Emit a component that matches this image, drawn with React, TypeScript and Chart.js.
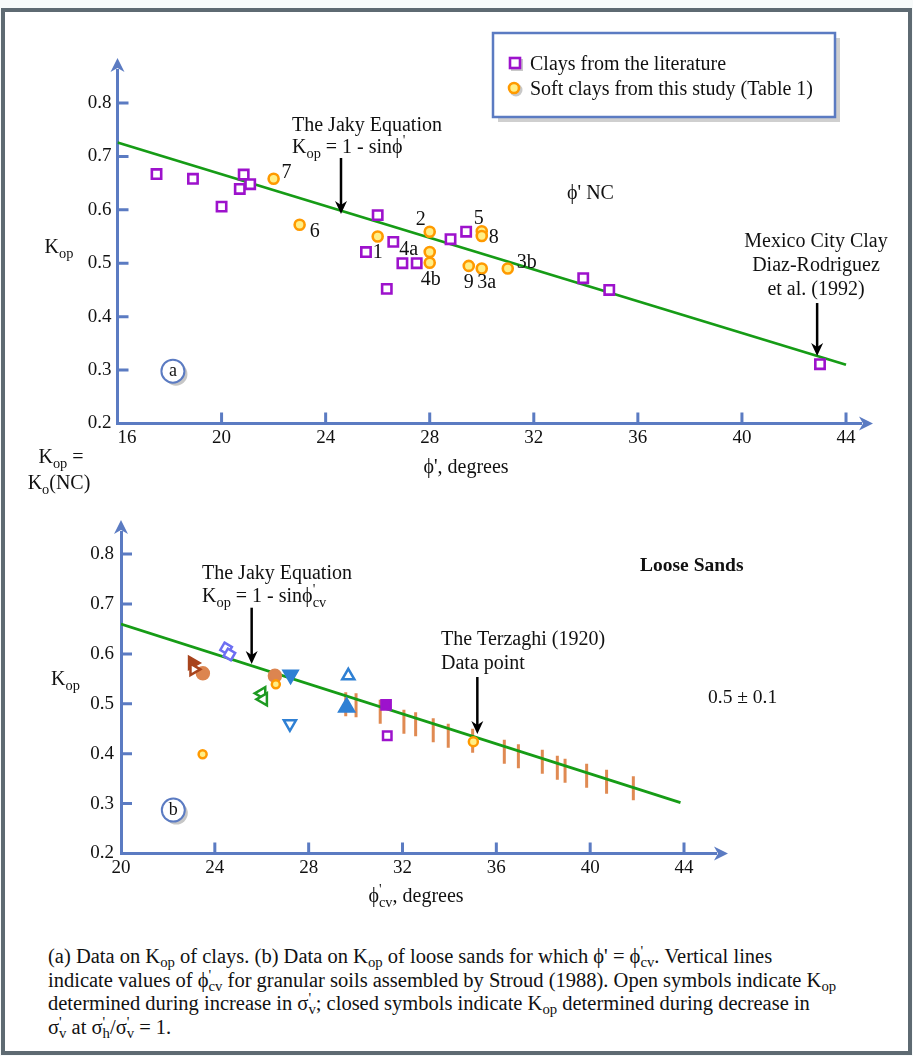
import React, { useEffect, useRef } from "react";
import { Chart, registerables } from "chart.js";
Chart.register(...registerables);

const SERIF = '"Liberation Serif", "Times New Roman", Times, serif';
const AXIS = "#5b7bc2";
const GREEN = "#169c16";
const PURPLE = "#9d12cc";
const ORANGE = "#ff9a00";
const YELLOW = "#ffef86";
const STROUD = "#e08a52";
const BROWN_DOT = "#dc8550";
const BROWN = "#a8441d";
const BLUE = "#2f80d4";
const VIOLET = "#6d6ff2";
const DKGREEN = "#1e9a22";
const INK = "#111";
const PHI = "\u03D5";
const FS = 20;

// ---------- (a) clays ----------
const phiTicksA = [16, 20, 24, 28, 32, 36, 40, 44];
const kTicksA = [0.2, 0.3, 0.4, 0.5, 0.6, 0.7, 0.8];
const clayLitPhi = [17.5, 18.9, 20.0, 20.85, 20.7, 21.1, 26.0, 25.55, 26.6, 26.95, 27.5, 26.35, 28.8, 29.4, 33.9, 34.9, 43.0];
const clayLitK = [0.667, 0.658, 0.606, 0.666, 0.639, 0.648, 0.59, 0.521, 0.54, 0.5, 0.5, 0.452, 0.545, 0.559, 0.472, 0.45, 0.311];
const softClayPhi = [22.0, 23.0, 26.0, 28.0, 28.0, 28.0, 29.5, 30.0, 31.0, 30.0, 30.0];
const softClayK = [0.658, 0.572, 0.55, 0.559, 0.521, 0.501, 0.495, 0.49, 0.49, 0.56, 0.551];
const softClayLabels = ["7", "6", "1", "2", "4a", "4b", "9", "3a", "3b", "5", "8"];
const jakyAPhi = [16, 44];
const jakyAK = [0.726, 0.31];

// ---------- (b) loose sands ----------
const phiTicksB = [20, 24, 28, 32, 36, 40, 44];
const kTicksB = [0.2, 0.3, 0.4, 0.5, 0.6, 0.7, 0.8];
const jakyBPhi = [20, 43.85];
const jakyBK = [0.66, 0.302];
const stroudPhi = [29.58, 30.02, 31.05, 32.06, 32.56, 33.31, 33.95, 34.99, 36.34, 36.94, 37.96, 38.6, 38.93, 39.85, 40.7, 41.84];
const stroudK = [0.499, 0.497, 0.484, 0.464, 0.459, 0.447, 0.436, 0.426, 0.404, 0.395, 0.384, 0.372, 0.366, 0.356, 0.344, 0.331];
const openCirclePhi = [26.6, 23.48];
const openCircleK = [0.539, 0.399];
const terzaghiPhi = [35.02];
const terzaghiK = [0.424];
const filledCirclePhi = [23.49, 26.56];
const filledCircleK = [0.561, 0.556];
const brownFilledPhi = [23.05];
const brownFilledK = [0.582];
const brownOpenPhi = [23.1];
const brownOpenK = [0.569];
const violetPhi = [24.48, 24.62];
const violetK = [0.611, 0.599];
const greenTriPhi = [26.0, 26.07];
const greenTriK = [0.521, 0.509];
const blueDownFilledPhi = [27.23];
const blueDownFilledK = [0.558];
const blueDownOpenPhi = [27.2];
const blueDownOpenK = [0.46];
const blueUpOpenPhi = [29.69];
const blueUpOpenK = [0.556];
const blueUpFilledPhi = [29.62];
const blueUpFilledK = [0.493];
const purpleFilledPhi = [31.3];
const purpleFilledK = [0.498];
const purpleOpenPhi = [31.35];
const purpleOpenK = [0.436];

const pts = (xs: number[], ys: number[]) => xs.map((x, i) => ({ x, y: ys[i] }));
const font = (size: number, bold = false) => `${bold ? "bold " : ""}${size}px ${SERIF}`;

type Seg = { t: string; sub?: string; sup?: string; bold?: boolean };

function segWidth(ctx: CanvasRenderingContext2D, s: Seg, size: number) {
  ctx.font = font(size, s.bold);
  const w = ctx.measureText(s.t).width;
  ctx.font = font(size * 0.72);
  let e = 0;
  if (s.sub) e = Math.max(e, ctx.measureText(s.sub).width);
  if (s.sup) e = Math.max(e, ctx.measureText(s.sup).width);
  return w + e;
}

function drawRich(ctx: CanvasRenderingContext2D, segs: Seg[], x: number, y: number, size: number, align: "left" | "center" | "right" = "left") {
  const total = segs.reduce((a, s) => a + segWidth(ctx, s, size), 0);
  let cx = align === "left" ? x : align === "center" ? x - total / 2 : x - total;
  ctx.save();
  ctx.fillStyle = INK;
  ctx.textAlign = "left";
  ctx.textBaseline = "alphabetic";
  for (const s of segs) {
    ctx.font = font(size, s.bold);
    ctx.fillText(s.t, cx, y);
    const w = ctx.measureText(s.t).width;
    ctx.font = font(size * 0.72);
    let e = 0;
    if (s.sup) {
      ctx.fillText(s.sup, cx + w, y - size * 0.4);
      e = Math.max(e, ctx.measureText(s.sup).width);
    }
    if (s.sub) {
      ctx.fillText(s.sub, cx + w, y + size * 0.24);
      e = Math.max(e, ctx.measureText(s.sub).width);
    }
    cx += w + e;
  }
  ctx.restore();
}

function arrowDown(ctx: CanvasRenderingContext2D, x: number, y1: number, y2: number) {
  ctx.save();
  ctx.strokeStyle = "#000";
  ctx.fillStyle = "#000";
  ctx.lineWidth = 2.5;
  ctx.beginPath();
  ctx.moveTo(x, y1);
  ctx.lineTo(x, y2 - 8);
  ctx.stroke();
  ctx.beginPath();
  ctx.moveTo(x, y2);
  ctx.lineTo(x - 6, y2 - 13);
  ctx.lineTo(x, y2 - 9);
  ctx.lineTo(x + 6, y2 - 13);
  ctx.closePath();
  ctx.fill();
  ctx.restore();
}

function badge(ctx: CanvasRenderingContext2D, x: number, y: number, letter: string) {
  ctx.save();
  ctx.fillStyle = "#c6c6c6";
  ctx.beginPath();
  ctx.arc(x + 3, y + 3, 11.5, 0, Math.PI * 2);
  ctx.fill();
  ctx.fillStyle = "#fff";
  ctx.beginPath();
  ctx.arc(x, y, 11.5, 0, Math.PI * 2);
  ctx.fill();
  ctx.strokeStyle = AXIS;
  ctx.lineWidth = 2;
  ctx.stroke();
  ctx.fillStyle = INK;
  ctx.font = font(18);
  ctx.textAlign = "center";
  ctx.textBaseline = "middle";
  ctx.fillText(letter, x, y + 0.5);
  ctx.restore();
}

function axisDecor(chart: any, xt: number[], yt: number[]) {
  const ctx: CanvasRenderingContext2D = chart.ctx;
  const ca = chart.chartArea;
  const xs = chart.scales.x;
  const ys = chart.scales.y;
  ctx.save();
  ctx.strokeStyle = AXIS;
  ctx.fillStyle = AXIS;
  ctx.lineWidth = 3;
  ctx.beginPath();
  for (const v of xt) {
    const p = xs.getPixelForValue(v);
    ctx.moveTo(p, ca.bottom);
    ctx.lineTo(p, ca.bottom - 11);
  }
  for (const v of yt) {
    const p = ys.getPixelForValue(v);
    ctx.moveTo(ca.left, p);
    ctx.lineTo(ca.left + 11, p);
  }
  ctx.stroke();
  const ax = ca.left;
  const top = ca.top;
  ctx.beginPath();
  ctx.moveTo(ax, top - 12);
  ctx.lineTo(ax + 7, top + 2);
  ctx.lineTo(ax, top - 2);
  ctx.lineTo(ax - 7, top + 2);
  ctx.closePath();
  ctx.fill();
  const ay = ca.bottom;
  const r = ca.right;
  ctx.beginPath();
  ctx.moveTo(r + 12, ay);
  ctx.lineTo(r - 2, ay - 7);
  ctx.lineTo(r + 2, ay);
  ctx.lineTo(r - 2, ay + 7);
  ctx.closePath();
  ctx.fill();
  ctx.restore();
}

const softLabelOffsets: Record<string, [number, number]> = {
  "7": [13, -6], "6": [15, 7], "1": [0, 16], "2": [-9, -12], "4a": [-21, -2], "4b": [1, 17],
  "9": [0, 17], "3a": [5, 14], "3b": [19, -6], "5": [-3, -12], "8": [12, 2],
};

const pluginA = {
  id: "annA",
  afterDraw(chart: any) {
    const ctx: CanvasRenderingContext2D = chart.ctx;
    const xs = chart.scales.x;
    const ys = chart.scales.y;
    const ca = chart.chartArea;
    const X = (v: number) => xs.getPixelForValue(v);
    const Y = (v: number) => ys.getPixelForValue(v);
    axisDecor(chart, phiTicksA.slice(1), kTicksA.slice(1));

    ctx.save();
    ctx.fillStyle = INK;
    ctx.font = font(FS);
    ctx.textAlign = "center";
    ctx.textBaseline = "middle";
    softClayLabels.forEach((lab, i) => {
      const [dx, dy] = softLabelOffsets[lab];
      ctx.fillText(lab, X(softClayPhi[i]) + dx, Y(softClayK[i]) + dy);
    });
    ctx.restore();

    drawRich(ctx, [{ t: "The Jaky Equation" }], 292, 131, FS);
    drawRich(ctx, [{ t: "K", sub: "op" }, { t: " = 1 - sin" + PHI, sup: "'" }], 292, 153, FS);
    arrowDown(ctx, X(24.59), Y(0.697), Y(0.592));

    drawRich(ctx, [{ t: PHI + "' NC" }], 567, 199, FS);

    drawRich(ctx, [{ t: "Mexico City Clay" }], 816, 247, FS, "center");
    drawRich(ctx, [{ t: "Diaz-Rodriguez" }], 816, 271, FS, "center");
    drawRich(ctx, [{ t: "et al. (1992)" }], 816, 295, FS, "center");
    arrowDown(ctx, X(42.89), Y(0.4255), Y(0.3265));

    badge(ctx, X(18.13), Y(0.298), "a");

    drawRich(ctx, [{ t: "K", sub: "op" }], ca.left - 73, 253, FS);
    drawRich(ctx, [{ t: "K", sub: "op" }, { t: " =" }], 61, 463, FS, "center");
    drawRich(ctx, [{ t: "K", sub: "o" }, { t: "(NC)" }], 59, 489, FS, "center");
    drawRich(ctx, [{ t: PHI + "', degrees" }], 466, 473, FS, "center");

    // legend
    ctx.save();
    ctx.fillStyle = "#cfcfcf";
    ctx.fillRect(498, 38, 342, 84);
    ctx.fillStyle = "#fff";
    ctx.fillRect(493, 33, 342, 84);
    ctx.strokeStyle = AXIS;
    ctx.lineWidth = 2.5;
    ctx.strokeRect(493, 33, 342, 84);
    ctx.fillStyle = "#c8c8c8";
    ctx.fillRect(511, 59, 12, 12);
    ctx.fillStyle = "#fff";
    ctx.fillRect(510, 58, 10, 10);
    ctx.strokeStyle = PURPLE;
    ctx.lineWidth = 2.6;
    ctx.strokeRect(510, 58, 10, 10);
    ctx.fillStyle = "#c8c8c8";
    ctx.beginPath();
    ctx.arc(516, 90, 6.5, 0, Math.PI * 2);
    ctx.fill();
    ctx.fillStyle = YELLOW;
    ctx.strokeStyle = ORANGE;
    ctx.beginPath();
    ctx.arc(514, 88, 5, 0, Math.PI * 2);
    ctx.fill();
    ctx.stroke();
    ctx.restore();
    drawRich(ctx, [{ t: "Clays from the literature" }], 530, 70, FS);
    drawRich(ctx, [{ t: "Soft clays from this study (Table 1)" }], 530, 95, FS);
  },
};

const pluginB = {
  id: "annB",
  afterDraw(chart: any) {
    const ctx: CanvasRenderingContext2D = chart.ctx;
    const xs = chart.scales.x;
    const ys = chart.scales.y;
    const ca = chart.chartArea;
    const X = (v: number) => xs.getPixelForValue(v);
    const Y = (v: number) => ys.getPixelForValue(v);
    const o = 500;
    axisDecor(chart, phiTicksB.slice(1), kTicksB.slice(1));

    drawRich(ctx, [{ t: "The Jaky Equation" }], 202, 579 - o, FS);
    drawRich(ctx, [{ t: "K", sub: "op" }, { t: " = 1 - sin" + PHI, sup: "'", sub: "cv" }], 202, 602 - o, FS);
    arrowDown(ctx, X(25.57), Y(0.6926), Y(0.5798));

    drawRich(ctx, [{ t: "Loose Sands", bold: true }], 640, 571 - o, 19.5);

    drawRich(ctx, [{ t: "The Terzaghi (1920)" }], 441, 645 - o, FS);
    drawRich(ctx, [{ t: "Data point" }], 441, 669 - o, FS);
    arrowDown(ctx, X(35.19), Y(0.5537), Y(0.4395));

    drawRich(ctx, [{ t: "0.5 ± 0.1" }], 708, 703 - o, 19.5);

    badge(ctx, X(22.23), Y(0.287), "b");

    drawRich(ctx, [{ t: "K", sub: "op" }], ca.left - 70, 685 - o, FS);
    drawRich(ctx, [{ t: PHI, sup: "'", sub: "cv" }, { t: ", degrees" }], 416, 902 - o, FS, "center");
  },
};

function baseScales(
  xmin: number, xmax: number, xt: number[], ymin: number, ymax: number, yt: number[],
  yWidth: number, xHeight: number, yPad: number, xPad: number, firstXShift: boolean
) {
  const tickFont = { family: SERIF, size: 19 };
  return {
    x: {
      type: "linear",
      min: xmin,
      max: xmax,
      afterFit: (s: any) => { s.height = xHeight; },
      afterBuildTicks: (s: any) => { s.ticks = xt.map((v) => ({ value: v })); },
      grid: { display: false, drawTicks: false },
      border: { display: true, color: AXIS, width: 3 },
      ticks: {
        font: tickFont,
        color: INK,
        padding: xPad,
        maxRotation: 0,
        autoSkip: false,
        callback: (v: any) => (firstXShift && v === xmin ? "\u2002\u2002" + String(v) : String(v)),
      },
    },
    y: {
      type: "linear",
      min: ymin,
      max: ymax,
      afterFit: (s: any) => { s.width = yWidth; },
      afterBuildTicks: (s: any) => { s.ticks = yt.map((v) => ({ value: v })); },
      grid: { display: false, drawTicks: false },
      border: { display: true, color: AXIS, width: 3 },
      ticks: { font: tickFont, color: INK, padding: yPad, autoSkip: false, callback: (v: any) => Number(v).toFixed(1) },
    },
  };
}

function configA(): any {
  return {
    type: "scatter",
    data: {
      datasets: [
        {
          label: "Clays from the literature",
          data: pts(clayLitPhi, clayLitK),
          pointStyle: "rect",
          pointRadius: 6.6,
          borderColor: PURPLE,
          backgroundColor: "#fff",
          borderWidth: 2.6,
          order: 1,
        },
        {
          label: "Soft clays from this study (Table 1)",
          data: pts(softClayPhi, softClayK),
          pointStyle: "circle",
          pointRadius: 5,
          borderColor: ORANGE,
          backgroundColor: YELLOW,
          borderWidth: 2.6,
          order: 0,
        },
        {
          type: "line",
          label: "Jaky",
          data: pts(jakyAPhi, jakyAK),
          borderColor: GREEN,
          borderWidth: 2.8,
          pointRadius: 0,
          showLine: true,
          fill: false,
          order: 10,
        },
      ],
    },
    options: {
      animation: false,
      responsive: false,
      maintainAspectRatio: false,
      layout: { padding: { left: 0, right: 52, top: 70, bottom: 0 } },
      plugins: { legend: { display: false }, tooltip: { enabled: false } },
      scales: baseScales(16, 44.576, phiTicksA, 0.2, 0.8617, kTicksA, 117.5, 76.5, 6, 3, true),
    },
    plugins: [pluginA],
  };
}

function scat(data: any[], style: string, radius: number, color: string, filled: boolean, rotation = 0, order = 0, fillColor = "#fff", bw = 2.5): any {
  return {
    data,
    pointStyle: style,
    pointRadius: radius,
    rotation,
    borderColor: color,
    backgroundColor: filled ? color : fillColor,
    borderWidth: bw,
    order,
  };
}

function configB(): any {
  return {
    type: "scatter",
    data: {
      datasets: [
        scat(pts(openCirclePhi, openCircleK), "circle", 4, ORANGE, false, 0, 0, YELLOW),
        scat(pts(terzaghiPhi, terzaghiK), "circle", 4.5, ORANGE, false, 0, 0, YELLOW),
        scat(pts(filledCirclePhi, filledCircleK), "circle", 6, BROWN_DOT, true, 0, 1),
        scat(pts(brownFilledPhi, brownFilledK), "triangle", 7, BROWN, true, 90, 1),
        scat(pts(brownOpenPhi, brownOpenK), "triangle", 6.5, BROWN, false, 90, 0),
        scat(pts(violetPhi, violetK), "rect", 6, VIOLET, false, 30, 0),
        scat(pts(greenTriPhi, greenTriK), "triangle", 7, DKGREEN, false, -90, 0),
        scat(pts(blueDownFilledPhi, blueDownFilledK), "triangle", 8, BLUE, true, 180, 0),
        scat(pts(blueDownOpenPhi, blueDownOpenK), "triangle", 7, BLUE, false, 180, 0),
        scat(pts(blueUpOpenPhi, blueUpOpenK), "triangle", 7, BLUE, false, 0, 0),
        scat(pts(blueUpFilledPhi, blueUpFilledK), "triangle", 8.5, BLUE, true, 0, 0),
        scat(pts(purpleFilledPhi, purpleFilledK), "rect", 6.5, PURPLE, true, 0, 0),
        scat(pts(purpleOpenPhi, purpleOpenK), "rect", 6, PURPLE, false, 0, 0),
        {
          label: "Stroud (1988)",
          data: pts(stroudPhi, stroudK),
          pointStyle: "line",
          rotation: 90,
          pointRadius: 12,
          borderColor: STROUD,
          backgroundColor: STROUD,
          borderWidth: 3,
          order: 20,
        },
        {
          type: "line",
          label: "Jaky",
          data: pts(jakyBPhi, jakyBK),
          borderColor: GREEN,
          borderWidth: 2.8,
          pointRadius: 0,
          showLine: true,
          fill: false,
          order: 10,
        },
      ],
    },
    options: {
      animation: false,
      responsive: false,
      maintainAspectRatio: false,
      layout: { padding: { left: 0, right: 197, top: 32, bottom: 0 } },
      plugins: { legend: { display: false }, tooltip: { enabled: false } },
      scales: baseScales(20, 45.364, phiTicksB, 0.2, 0.8443, kTicksB, 121, 66.5, 7, 3, false),
    },
    plugins: [pluginB],
  };
}

const subStyle: React.CSSProperties = { fontSize: "0.72em", verticalAlign: "-0.25em", lineHeight: 0 };

function K() {
  return (
    <>
      K<span style={subStyle}>op</span>
    </>
  );
}

function PrimeSub({ base, sub }: { base: string; sub: string }) {
  return (
    <>
      {base}
      <span
        style={{
          display: "inline-block",
          verticalAlign: "-0.3em",
          fontSize: "0.72em",
          lineHeight: "0.75",
          textAlign: "left",
        }}
      >
        '
        <br />
        {sub}
      </span>
    </>
  );
}

export default function App() {
  const topRef = useRef<HTMLCanvasElement>(null);
  const botRef = useRef<HTMLCanvasElement>(null);
  useEffect(() => {
    const a = new Chart(topRef.current as HTMLCanvasElement, configA());
    const b = new Chart(botRef.current as HTMLCanvasElement, configB());
    return () => {
      a.destroy();
      b.destroy();
    };
  }, []);
  return (
    <div
      style={{
        position: "absolute",
        left: 0,
        top: 0,
        width: 913,
        height: 1056,
        background: "#f7fafa",
        overflow: "hidden",
        fontFamily: SERIF,
      }}
    >
      <div
        style={{
          position: "absolute",
          left: 1,
          top: 8,
          width: 903,
          height: 1039,
          border: "4px solid #5e6a72",
          background: "#fff",
        }}
      />
      <canvas ref={topRef} width={913} height={500} style={{ position: "absolute", left: 0, top: 0 }} />
      <canvas ref={botRef} width={913} height={420} style={{ position: "absolute", left: 0, top: 500 }} />
      <div
        style={{
          position: "absolute",
          left: 48,
          top: 945,
          fontSize: 20.5,
          lineHeight: "23.5px",
          color: INK,
          whiteSpace: "nowrap",
        }}
      >
        (a) Data on <K /> of clays. (b) Data on <K /> of loose sands for which {PHI}' = <PrimeSub base={PHI} sub="cv" />. Vertical lines
        <br />
        indicate values of <PrimeSub base={PHI} sub="cv" /> for granular soils assembled by Stroud (1988). Open symbols indicate <K />
        <br />
        determined during increase in <PrimeSub base="σ" sub="v" />; closed symbols indicate <K /> determined during decrease in
        <br />
        <PrimeSub base="σ" sub="v" /> at <PrimeSub base="σ" sub="h" />/<PrimeSub base="σ" sub="v" /> = 1.
      </div>
    </div>
  );
}
